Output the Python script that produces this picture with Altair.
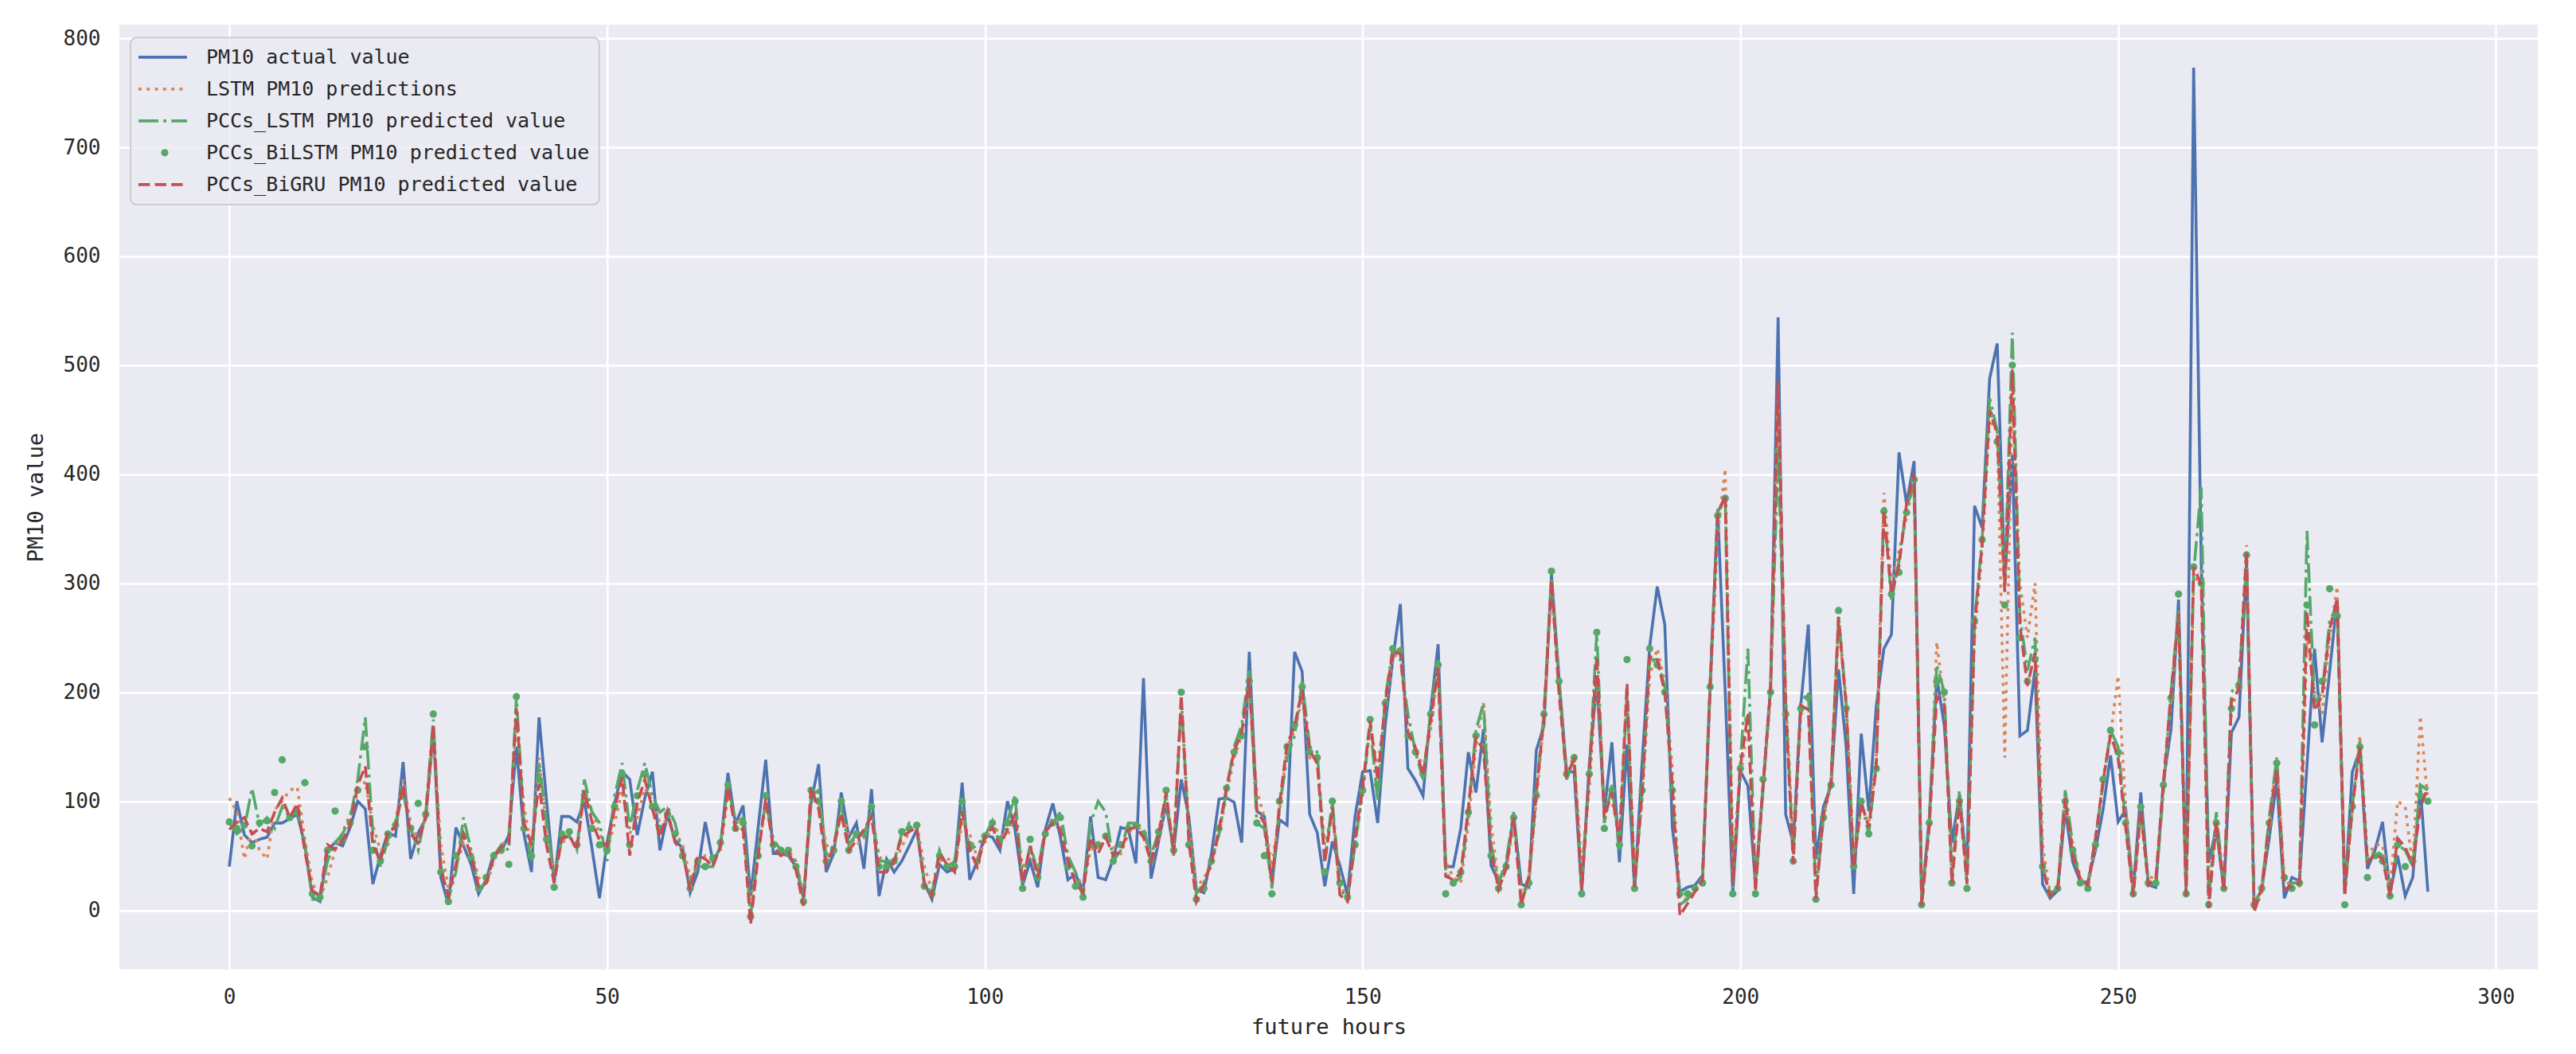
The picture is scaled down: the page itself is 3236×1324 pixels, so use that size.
import altair as alt
import pandas as pd

hours = list(range(292))

actual = [
    40, 100, 69, 62, 65, 67, 80, 80, 84, 88,
    60, 12, 8, 55, 62, 59, 76, 100, 93, 24,
    50, 71, 68, 136, 47, 71, 84, 166, 30, 5,
    76, 59, 42, 15, 28, 52, 54, 69, 150, 70,
    35, 177, 100, 25, 86, 86, 81, 100, 57, 11,
    62, 98, 127, 120, 69, 103, 127, 55, 88, 64,
    57, 16, 35, 81, 45, 57, 126, 79, 96, 13,
    76, 138, 52, 52, 50, 40, 11, 98, 134, 35,
    52, 108, 67, 80, 38, 111, 13, 47, 35, 45,
    59, 74, 25, 10, 42, 35, 38, 117, 28, 45,
    69, 67, 55, 100, 74, 23, 45, 21, 74, 98,
    67, 28, 33, 18, 86, 30, 28, 47, 76, 74,
    43, 213, 29, 63, 97, 55, 120, 86, 19, 16,
    52, 102, 103, 99, 62, 237, 91, 86, 25, 83,
    78, 237, 219, 88, 71, 22, 63, 41, 14, 86,
    127, 128, 80, 170, 230, 281, 130, 119, 105, 183,
    244, 40, 40, 75, 145, 108, 166, 41, 26, 41,
    87, 24, 21, 147, 169, 308, 213, 127, 127, 16,
    133, 210, 90, 154, 44, 152, 18, 136, 242, 297,
    262, 76, 17, 21, 23, 32, 203, 368, 200, 15,
    128, 114, 24, 114, 203, 544, 88, 62, 188, 262,
    47, 95, 114, 221, 151, 15, 162, 91, 188, 240,
    253, 420, 373, 412, 10, 84, 214, 169, 62, 106,
    39, 371, 351, 488, 520, 302, 418, 160, 165, 221,
    24, 11, 18, 92, 44, 26, 26, 55, 92, 142,
    81, 92, 18, 108, 23, 21, 118, 166, 285, 18,
    773, 320, 44, 76, 18, 163, 177, 320, 5, 19,
    66, 119, 11, 30, 27, 133, 240, 154, 219, 286,
    15, 127, 147, 38, 55, 81, 16, 50, 13, 30,
    113, 17,
]

lstm = [
    103, 90, 47, 75, 55, 47, 92, 100, 110, 113,
    65, 25, 10, 30, 55, 72, 88, 108, 118, 78,
    55, 60, 82, 120, 80, 65, 85, 160, 60, 20,
    40, 62, 55, 30, 22, 45, 60, 65, 175, 95,
    55, 140, 75, 35, 62, 66, 62, 105, 92, 70,
    55, 80, 110, 70, 85, 112, 100, 80, 82, 72,
    60, 30, 42, 50, 45, 55, 105, 85, 72, 5,
    55, 95, 65, 52, 55, 45, 15, 100, 100, 60,
    55, 92, 70, 60, 65, 90, 50, 40, 42, 58,
    72, 78, 40, 18, 45, 48, 42, 80, 70, 48,
    62, 78, 70, 68, 88, 40, 50, 40, 68, 85,
    80, 50, 35, 20, 55, 60, 68, 58, 52, 70,
    80, 70, 50, 62, 100, 60, 190, 80, 20, 30,
    40, 70, 105, 140, 160, 200, 110, 85, 40, 90,
    150, 165, 195, 140, 135, 60, 90, 25, 10, 60,
    105, 170, 130, 185, 230, 240, 165, 150, 130, 165,
    220, 45, 30, 25, 80, 150, 190, 80, 25, 35,
    80, 15, 25, 100, 175, 295, 210, 130, 140, 40,
    110, 215, 100, 100, 70, 200, 30, 100, 215, 240,
    210, 130, 10, 10, 15, 30, 200, 345, 405, 50,
    120, 175, 30, 110, 195, 470, 200, 60, 180, 185,
    30, 85, 115, 260, 195, 50, 95, 80, 140, 383,
    300, 330, 360, 395, 15, 75, 246, 190, 40, 105,
    30, 250, 330, 450, 440, 140, 470, 300, 250, 300,
    60, 15, 22, 95, 60, 30, 20, 60, 120, 160,
    215, 95, 20, 85, 30, 30, 110, 190, 270, 30,
    300, 310, 15, 85, 25, 185, 205, 335, 0, 15,
    75, 140, 30, 20, 20, 250, 200, 180, 250, 297,
    30, 90, 160, 50, 60, 60, 20, 100, 95, 40,
    178, 100,
]

pccs_lstm = [
    80, 70, 75, 112, 78, 85, 75, 95, 85, 92,
    60, 10, 10, 45, 62, 70, 85, 120, 177, 70,
    40, 65, 80, 108, 75, 55, 90, 175, 40, 10,
    35, 85, 55, 20, 25, 50, 60, 55, 196, 80,
    45, 135, 80, 30, 65, 68, 55, 120, 90, 80,
    45, 105, 135, 75, 110, 135, 105, 90, 95, 80,
    50, 25, 40, 40, 40, 60, 115, 80, 85, -6,
    55, 100, 65, 55, 50, 45, 10, 105, 110, 50,
    60, 95, 60, 70, 70, 90, 45, 45, 45, 70,
    80, 75, 25, 15, 55, 40, 45, 95, 55, 60,
    68, 82, 60, 82, 105, 25, 60, 35, 75, 80,
    90, 50, 35, 12, 80, 100, 90, 45, 55, 80,
    80, 75, 50, 72, 105, 50, 195, 70, 15, 25,
    45, 70, 110, 150, 170, 220, 80, 75, 20, 95,
    140, 160, 210, 150, 145, 45, 100, 20, 10, 60,
    110, 170, 100, 195, 240, 230, 180, 145, 120, 180,
    230, 35, 25, 30, 90, 165, 190, 60, 25, 45,
    90, 10, 25, 110, 180, 305, 210, 120, 140, 20,
    125, 255, 80, 115, 55, 200, 20, 110, 230, 230,
    205, 110, 5, 10, 20, 30, 210, 365, 380, 20,
    135, 240, 20, 110, 205, 420, 190, 50, 190, 200,
    15, 85, 120, 270, 190, 40, 100, 70, 135, 370,
    285, 320, 370, 390, 5, 80, 225, 200, 30, 110,
    25, 265, 340, 470, 440, 300, 530, 270, 220, 250,
    40, 15, 20, 110, 60, 25, 25, 65, 115, 165,
    150, 80, 15, 95, 25, 25, 110, 200, 275, 20,
    310, 388, 10, 90, 20, 200, 210, 320, 5, 20,
    85, 140, 20, 25, 25, 348, 190, 200, 265, 280,
    15, 95, 155, 45, 55, 50, 15, 60, 55, 40,
    115, 110,
]

pccs_bilstm = [
    81, 75, 78, 59, 80, 82, 108, 138, 85, 90,
    117, 15, 12, 55, 91, 65, 80, 110, 150, 55,
    45, 70, 78, 110, 75, 98, 88, 180, 35, 8,
    50, 68, 48, 20, 30, 50, 55, 42, 196, 75,
    50, 120, 65, 21, 70, 72, 60, 105, 75, 60,
    55, 95, 125, 60, 105, 125, 95, 75, 88, 70,
    50, 20, 45, 40, 48, 62, 115, 75, 80, -6,
    50, 105, 60, 55, 55, 40, 8, 110, 100, 45,
    55, 100, 55, 70, 70, 95, 40, 40, 45, 72,
    75, 78, 22, 15, 50, 40, 40, 100, 60, 45,
    68, 80, 65, 80, 100, 20, 65, 30, 70, 80,
    85, 40, 22, 12, 60, 60, 68, 45, 60, 75,
    78, 70, 45, 72, 110, 55, 200, 60, 10, 20,
    45, 75, 112, 145, 160, 210, 80, 50, 15, 100,
    150, 170, 205, 145, 140, 35, 100, 25, 12, 60,
    110, 175, 115, 190, 240, 238, 160, 145, 125, 180,
    225, 15, 25, 35, 90, 160, 150, 50, 20, 40,
    85, 5, 25, 105, 180, 311, 210, 125, 140, 15,
    125, 255, 75, 110, 60, 230, 20, 110, 240, 225,
    200, 110, 15, 15, 20, 25, 205, 362, 378, 15,
    130, 175, 15, 120, 200, 420, 180, 45, 185, 195,
    10, 85, 115, 275, 185, 40, 100, 70, 130, 366,
    290, 310, 365, 395, 5, 80, 210, 200, 25, 100,
    20, 265, 340, 455, 430, 280, 500, 250, 210, 230,
    40, 15, 20, 100, 55, 25, 20, 60, 120, 165,
    145, 80, 15, 95, 25, 25, 115, 195, 290, 15,
    315, 300, 5, 80, 20, 185, 205, 326, 5, 20,
    80, 135, 30, 20, 25, 280, 170, 210, 295, 270,
    5, 95, 150, 30, 50, 45, 13, 60, 40, 45,
    105, 100,
]

pccs_bigru = [
    74, 81, 85, 70, 75, 72, 90, 103, 85, 98,
    54, 18, 13, 60, 56, 64, 78, 115, 132, 60,
    45, 72, 76, 115, 70, 62, 86, 170, 37, 13,
    42, 70, 50, 22, 25, 48, 58, 62, 185, 80,
    60, 116, 59, 25, 66, 69, 55, 110, 81, 64,
    59, 93, 122, 50, 98, 120, 93, 67, 91, 62,
    54, 18, 50, 47, 40, 59, 113, 74, 76, -13,
    50, 103, 57, 50, 54, 37, 4, 113, 93, 42,
    58, 89, 55, 64, 74, 86, 35, 35, 45, 67,
    72, 76, 23, 13, 52, 42, 35, 91, 55, 40,
    67, 76, 59, 74, 88, 25, 59, 30, 72, 80,
    74, 45, 25, 16, 67, 52, 67, 50, 54, 74,
    76, 67, 44, 69, 108, 52, 197, 63, 8, 24,
    44, 74, 113, 146, 163, 213, 91, 80, 25, 97,
    152, 169, 202, 146, 135, 44, 94, 14, 8, 66,
    113, 174, 119, 191, 238, 235, 163, 149, 124, 174,
    222, 31, 28, 34, 94, 158, 147, 55, 19, 38,
    85, 5, 31, 108, 177, 302, 199, 124, 138, 19,
    124, 233, 85, 108, 63, 208, 21, 108, 233, 230,
    200, 114, -5, 6, 17, 28, 206, 362, 381, 24,
    132, 180, 17, 114, 203, 485, 188, 43, 188, 184,
    10, 88, 117, 269, 188, 39, 99, 76, 132, 366,
    290, 316, 373, 400, 4, 76, 196, 188, 24, 102,
    24, 262, 336, 459, 437, 292, 496, 262, 206, 236,
    39, 13, 18, 103, 50, 29, 23, 66, 118, 161,
    140, 76, 13, 92, 23, 29, 118, 198, 272, 13,
    315, 299, 2, 81, 18, 192, 203, 330, -2, 20,
    80, 130, 19, 22, 25, 274, 183, 197, 258, 286,
    14, 94, 150, 44, 52, 47, 13, 66, 58, 41,
    94, 113,
]

series_names = [
    "PM10 actual value",
    "LSTM PM10 predictions",
    "PCCs_LSTM PM10 predicted value",
    "PCCs_BiLSTM PM10 predicted value",
    "PCCs_BiGRU PM10 predicted value",
]
series_colors = ["#4C72B0", "#DD8452", "#55A868", "#55A868", "#C44E52"]
series_dashes = [[1, 0], [3.9, 6.4], [25, 6.2, 3.9, 6.2], [1, 0], [14.4, 6.2]]
x_ticks = [0, 50, 100, 150, 200, 250, 300]
y_ticks = [0, 100, 200, 300, 400, 500, 600, 700, 800]

all_values = [actual, lstm, pccs_lstm, pccs_bilstm, pccs_bigru]
for v in all_values:
    assert len(v) == len(hours), len(v)

rows = []
for name, vals in zip(series_names, all_values):
    for h, v in zip(hours, vals):
        rows.append({"hour": h, "value": v, "series": name})
df = pd.DataFrame(rows)

FONT = "DejaVu Sans Mono"
TXT = "#262626"

color_scale = alt.Scale(domain=series_names, range=series_colors)
dash_scale = alt.Scale(domain=series_names, range=series_dashes)

x_enc = alt.X(
    "hour:Q",
    scale=alt.Scale(domain=[-14.55, 305.55], nice=False, zero=False),
    axis=alt.Axis(values=x_ticks, title="future hours", labelPadding=22, titlePadding=12),
)
y_enc = alt.Y(
    "value:Q",
    scale=alt.Scale(domain=[-54.4, 812.4], nice=False, zero=False),
    axis=alt.Axis(values=y_ticks, title="PM10 value", labelPadding=24, titlePadding=20),
)

main_layers = []
for i, name in enumerate(series_names):
    base = alt.Chart(df).transform_filter(alt.datum.series == name)
    if name == "PCCs_BiLSTM PM10 predicted value":
        lyr = base.mark_circle(size=85, opacity=1).encode(
            x=x_enc, y=y_enc,
            color=alt.Color("series:N", scale=color_scale, legend=None),
        )
    else:
        lyr = base.mark_line(strokeWidth=3.6).encode(
            x=x_enc, y=y_enc,
            color=alt.Color("series:N", scale=color_scale, legend=None),
            strokeDash=alt.StrokeDash("series:N", scale=dash_scale, legend=None),
        )
    main_layers.append(lyr)
main = alt.layer(*main_layers)

# legend (drawn from the series names)
leg_df = pd.DataFrame({"series": series_names, "row": list(range(len(series_names)))})
leg_y = alt.Y("row:Q", scale=alt.Scale(domain=[0, 4], range=[40.7, 200.7]), axis=None)

box = alt.Chart(pd.DataFrame({"k": [0]})).mark_rect(
    fill="#EAEAF2", fillOpacity=0.8, stroke="#CCCCCC", strokeWidth=2, cornerRadius=8
).encode(x=alt.value(14), x2=alt.value(603), y=alt.value(16), y2=alt.value(226))

leg_lines = alt.Chart(leg_df).transform_filter(
    alt.datum.series != "PCCs_BiLSTM PM10 predicted value"
).mark_rule(strokeWidth=3.6).encode(
    x=alt.value(24), x2=alt.value(85), y=leg_y,
    color=alt.Color("series:N", scale=color_scale, legend=None),
    strokeDash=alt.StrokeDash("series:N", scale=dash_scale, legend=None),
)
leg_dot = alt.Chart(leg_df).transform_filter(
    alt.datum.series == "PCCs_BiLSTM PM10 predicted value"
).mark_circle(size=85, opacity=1).encode(
    x=alt.value(57), y=leg_y,
    color=alt.Color("series:N", scale=color_scale, legend=None),
)
leg_text = alt.Chart(leg_df).mark_text(
    align="left", baseline="middle", font=FONT, fontSize=25, color=TXT
).encode(x=alt.value(109), y=leg_y, text="series:N")

legend = alt.layer(box, leg_lines, leg_dot, leg_text)

chart = alt.layer(main, legend).resolve_scale(y="independent").properties(
    width=3039,
    height=1187,
    autosize=alt.AutoSizeParams(type="none"),
    padding={"left": 142, "top": 23, "right": 40, "bottom": 90},
    background="white",
).configure_view(
    fill="#EAEAF2", stroke=None
).configure_axis(
    grid=True, gridColor="white", gridWidth=2.6, domain=False, ticks=False,
    labelFont=FONT, labelFontSize=26, labelColor=TXT,
    titleFont=FONT, titleFontSize=27, titleFontWeight="normal", titleColor=TXT,
)

chart.save("out.html", embed_options={"renderer": "svg", "actions": False})
